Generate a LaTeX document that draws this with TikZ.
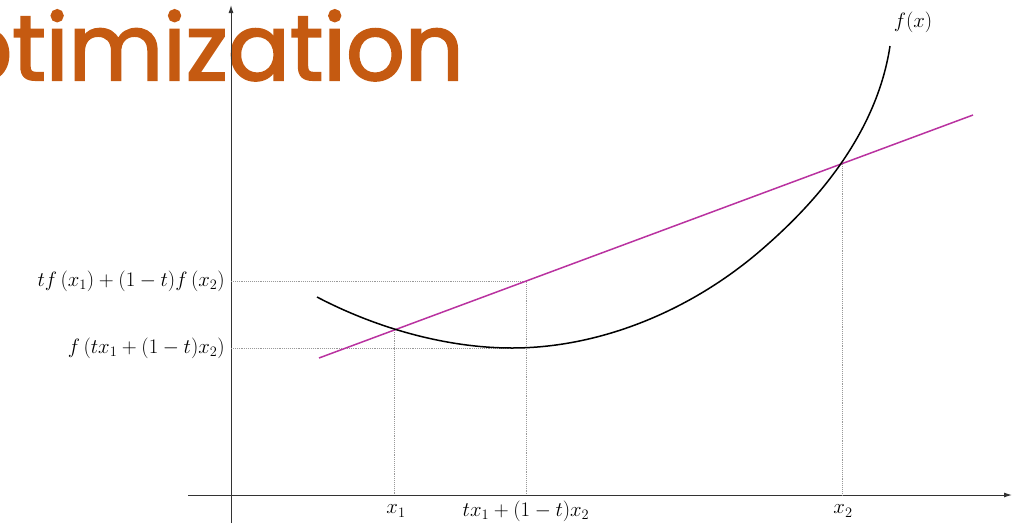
\documentclass[tikz,border=0pt]{standalone}
\usepackage{fontspec}
\newfontfamily\titlefont[FakeBold=2.2]{Poppins}
\usetikzlibrary{arrows.meta}
\definecolor{titleorange}{RGB}{197,90,17}
\definecolor{chordcol}{RGB}{185,50,160}
\tikzset{
  axis/.style={draw=black!80, line width=1pt, -{Latex[length=8pt,width=5pt]}},
  guide/.style={draw=black!40, line width=0.9pt, densely dotted},
  lbl/.style={font=\fontsize{20}{24}\selectfont, inner sep=2pt}
}
\begin{document}
\begin{tikzpicture}[x=1pt,y=-1pt]
	\useasboundingbox (0,0) rectangle (1017,523);
	% title, cut at the left edge
	\node[anchor=base east, inner sep=0pt, text=titleorange, font=\titlefont\fontsize{92}{100}\selectfont] (title) at (464,80) {Optimization};
	% axes
	\draw[axis] (188,495) -- (1012,495);
	\draw[axis] (231,523) -- (231,5);
	% points on the curve and chord
	\coordinate (p1) at (394,330);
	\coordinate (p2) at (842,164);
	\coordinate (pc) at (526,281);
	\coordinate (pm) at (512,348);
	% guides
	\draw[guide] (231,281) -- (pc) -- (526,495);
	\draw[guide] (231,348) -- (pm);
	\draw[guide] (p1) -- (394,495);
	\draw[guide] (p2) -- (842,495);
	% chord
	\draw[chordcol, line width=1.5pt] (319,358) -- (973,115);
	% function
	\draw[black, line width=1.5pt] (317,297) .. controls (380,330) and (450,348) .. (pm)
	  .. controls (600,348) and (690,311) .. (760,251)
	  .. controls (800,216.6) and (875,145) .. (890,46);
	\node[lbl] (fx) at (913,22) {$f(x)$};
	% labels
	\node[lbl, anchor=east] (ychord) at (227,281) {$tf\left(x_1\right)+(1-t)f\left(x_2\right)$};
	\node[lbl, anchor=east] (ymin) at (227,348) {$f\left(tx_1+(1-t)x_2\right)$};
	\node[lbl] (x1) at (396,511) {$x_1$};
	\node[lbl] (xc) at (526,511) {$tx_1+(1-t)x_2$};
	\node[lbl] (x2) at (843,511) {$x_2$};
\end{tikzpicture}
\end{document}
